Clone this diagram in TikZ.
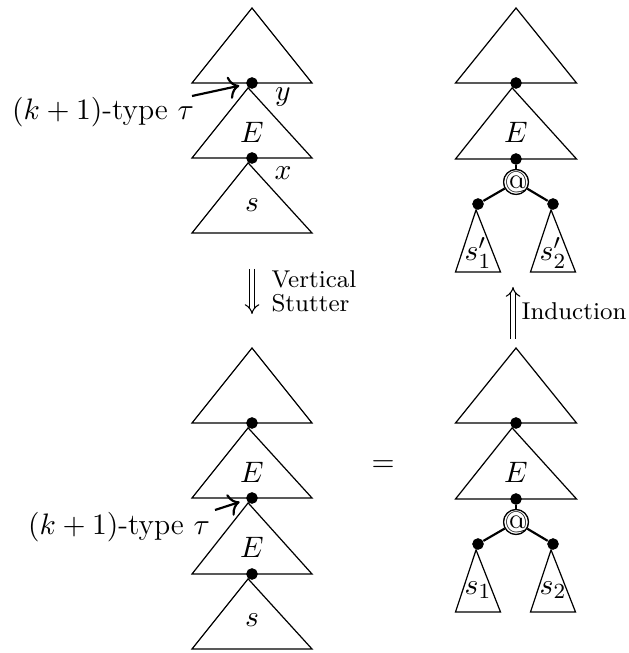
\documentclass[tikz,border=0pt]{standalone}
\usepackage{amsmath,amssymb}
\usetikzlibrary{arrows.meta,positioning,calc}
\newcommand{\Tri}[3]{\draw[tri] (#1) -- ++(-#2,#3) -- ++({2*#2},0) -- cycle;}
\tikzset{
  tri/.style={line width=0.45pt},
  vdot/.style={circle, fill=black, inner sep=0pt, minimum size=4.2pt},
  appnd/.style={circle, draw, fill=white, inner sep=-3pt, minimum size=9.2pt, line width=0.45pt},
  br/.style={line width=0.8pt},
  ptr/.style={-{To[length=1.4mm]}, line width=0.8pt, shorten >=2.5pt},
  infer/.style={double, double distance=1.5pt, line width=0.4pt, -{Implies}},
  lbl/.style={font=\small, align=left, inner sep=0pt},
}
\begin{document}
\begin{tikzpicture}[x=0.37pt, y=-0.37pt, font=\fontsize{11}{13.6}\selectfont]
  \useasboundingbox (0,0) rectangle (628,653);
  % left, top: E over s
  \node[vdot] (lt1) at (252,83){};
  \node[vdot] (lt2) at (252,158){};
  \Tri{252,8}{60}{75}
  \Tri{lt1}{60}{75}
  \Tri{lt2}{60}{75}
  \node[vdot] at (lt1){};
  \node[vdot] at (lt2){};
  \node (lte) at (252,132){$E$};
  \node (lts) at (252,205){$s$};
  \node (lty) at (283,97){$y$};
  \node (ltx) at (283,173){$x$};
  \node (tau1) at (103,112){$(k+1)$-type $\tau$};
  \coordinate (tau1t) at (192,96);
  \draw[ptr] (tau1t) -- (lt1);
  % right, top: E over application
  \node[vdot] (rt1) at (516,83){};
  \node[vdot] (rt2) at (516,159){};
  \node[appnd] (rta) at (516,182){$@$};
  \node[vdot] (rtl) at (478,204){};
  \node[vdot] (rtr) at (553,204){};
  \Tri{516,8}{60.5}{75}
  \Tri{rt1}{60.5}{76}
  \Tri{rtl}{22.5}{68}
  \Tri{rtr}{22.5}{68}
  \draw[br] (rt2) -- (rta);
  \draw[br] (rta) -- (rtl);
  \draw[br] (rta) -- (rtr);
  \node[vdot] at (rt1){};
  \node[vdot] at (rt2){};
  \node[vdot] at (rtl){};
  \node[vdot] at (rtr){};
  \node[appnd] at (rta){$@$};
  \node (rte) at (516,132){$E$};
  \node (rts1) at (478,253){$s'_1$};
  \node (rts2) at (553,253){$s'_2$};
  % inference steps
  \coordinate (vsa) at (252,269);
  \coordinate (vsb) at (252,314);
  \draw[infer] (vsa) -- (vsb);
  \node[lbl, anchor=west] (vst) at (271,291){Vertical\\[-2pt]Stutter};
  \coordinate (ina) at (513,339);
  \coordinate (inb) at (513,287);
  \draw[infer] (ina) -- (inb);
  \node[lbl, anchor=west] (int) at (521,311){Induction};
  % left, bottom: E over E over s
  \node[vdot] (lb1) at (252,423){};
  \node[vdot] (lb2) at (252,498){};
  \node[vdot] (lb3) at (252,574){};
  \Tri{252,348}{60}{75}
  \Tri{lb1}{60}{75}
  \Tri{lb2}{60}{76}
  \Tri{lb3}{60}{75}
  \node[vdot] at (lb1){};
  \node[vdot] at (lb2){};
  \node[vdot] at (lb3){};
  \node (lbe1) at (252,472){$E$};
  \node (lbe2) at (252,547){$E$};
  \node (lbs) at (252,620){$s$};
  \node (tau2) at (119,527){$(k+1)$-type $\tau$};
  \coordinate (tau2t) at (215,510);
  \draw[ptr] (tau2t) -- (lb2);
  % equals
  \node (eq) at (383,466){$=$};
  % right, bottom
  \node[vdot] (rb1) at (516,423){};
  \node[vdot] (rb2) at (516,499){};
  \node[appnd] (rba) at (516,522){$@$};
  \node[vdot] (rbl) at (478,544){};
  \node[vdot] (rbr) at (553,544){};
  \Tri{516,348}{60.5}{75}
  \Tri{rb1}{60.5}{76}
  \Tri{rbl}{22.5}{68}
  \Tri{rbr}{22.5}{68}
  \draw[br] (rb2) -- (rba);
  \draw[br] (rba) -- (rbl);
  \draw[br] (rba) -- (rbr);
  \node[vdot] at (rb1){};
  \node[vdot] at (rb2){};
  \node[vdot] at (rbl){};
  \node[vdot] at (rbr){};
  \node[appnd] at (rba){$@$};
  \node (rbe) at (516,472){$E$};
  \node (rbs1) at (478,590){$s_1$};
  \node (rbs2) at (553,590){$s_2$};
\end{tikzpicture}
\end{document}
